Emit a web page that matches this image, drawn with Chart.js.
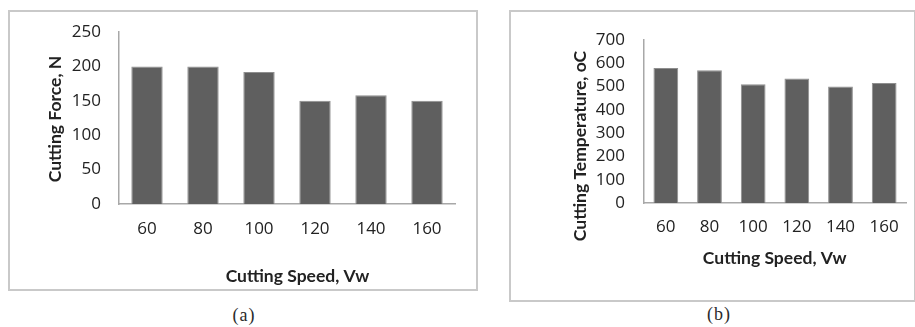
<!DOCTYPE html>
<html><head><meta charset="utf-8">
<script src="https://cdn.jsdelivr.net/npm/chart.js@4.4.1/dist/chart.umd.min.js"></script>
<style>
html,body{margin:0;padding:0;background:#fff;width:915px;height:327px;overflow:hidden;position:relative}
.box{position:absolute;box-sizing:border-box;border:2px solid #c9c9c9;}
#boxA{left:8px;top:10px;width:470px;height:281px}
#boxB{left:509px;top:10px;width:407px;height:292px}
canvas{position:absolute}
#cA{left:8px;top:10px}
#cB{left:509px;top:10px}
.cap{position:absolute;font-family:"Liberation Serif","DejaVu Serif",serif;font-size:18px;letter-spacing:1px;color:#2a2a2a;transform:translate(-50%,-50%);white-space:nowrap}
</style></head>
<body>
<div class="box" id="boxA"></div>
<div class="box" id="boxB"></div>
<canvas id="cA" width="469" height="280"></canvas>
<canvas id="cB" width="405" height="291"></canvas>
<div class="cap" style="left:244px;top:315px">(a)</div>
<div class="cap" style="left:719px;top:314px">(b)</div>
<script>
// ---- data ----
const speedLabels = ['60', '80', '100', '120', '140', '160'];
const forceValues = [200, 200, 192, 150, 158, 150];
const tempValues = [580, 570, 510, 535, 500, 515];
const forceTicks = [0, 50, 100, 150, 200, 250];
const tempTicks = [0, 100, 200, 300, 400, 500, 600, 700];
const xTitle = 'Cutting Speed, Vw';
const forceTitle = 'Cutting Force, N';
const tempTitle = 'Cutting Temperature, oC';

const TITLE_FONT = 'Lato, "Open Sans", sans-serif';
const TICK_FONT = '"Open Sans", Lato, sans-serif';
const BAR = '#5f5f5f';
const AXIS = '#a8a8a8';
const TXT = '#222222';

const axisTitlePlugin = {
  id: 'axisTitles',
  afterDraw(chart, args, o) {
    const ctx = chart.ctx;
    ctx.save();
    ctx.fillStyle = o.color;
    ctx.font = o.font;
    ctx.textAlign = 'center';
    ctx.textBaseline = 'middle';
    ctx.fillText(o.xText, o.xPos[0], o.xPos[1]);
    ctx.translate(o.yPos[0], o.yPos[1]);
    ctx.rotate(-Math.PI / 2);
    ctx.fillText(o.yText, 0, 0);
    ctx.restore();
  }
};

function makeChart(id, values, ticks, yText, g) {
  const canvas = document.getElementById(id);
  return new Chart(canvas, {
    type: 'bar',
    data: {
      labels: speedLabels,
      datasets: [{
        data: values,
        backgroundColor: BAR,
        borderColor: '#8e8e8e',
        borderWidth: 1,
        categoryPercentage: 1,
        barPercentage: g.barPct
      }]
    },
    options: {
      responsive: false,
      animation: false,
      events: [],
      layout: { autoPadding: false, padding: { left: 0, bottom: 0, top: g.top, right: canvas.width - g.right } },
      plugins: {
        legend: { display: false },
        tooltip: { enabled: false },
        axisTitles: {
          xText: xTitle, yText: yText, xPos: g.xPos, yPos: g.yPos,
          font: 'bold ' + g.titleSize + 'px ' + TITLE_FONT, color: TXT
        }
      },
      scales: {
        x: {
          grid: { display: false, drawTicks: false },
          border: { display: true, color: AXIS, width: 1.5 },
          ticks: { color: TXT, font: { family: TICK_FONT, size: g.tickSize }, padding: g.xPad, maxRotation: 0, autoSkip: false },
          afterFit(s) { s.height = canvas.height - g.bottom; s.paddingLeft = 0; s.paddingRight = 0; }
        },
        y: {
          min: ticks[0], max: ticks[ticks.length - 1],
          afterBuildTicks(s) { s.ticks = ticks.map(v => ({ value: v })); },
          grid: { display: false, drawTicks: false },
          border: { display: true, color: AXIS, width: 1.5 },
          ticks: { color: TXT, font: { family: TICK_FONT, size: g.tickSize }, padding: g.yPad, autoSkip: false },
          afterFit(s) { s.width = g.left; s.paddingTop = 0; s.paddingBottom = 0; }
        }
      }
    },
    plugins: [axisTitlePlugin]
  });
}

makeChart('cA', forceValues, forceTicks, forceTitle, {
  left: 111, right: 447, top: 22, bottom: 194, barPct: 0.56,
  tickSize: 17, titleSize: 17.5, xPad: 15, yPad: 18,
  xPos: [289.5, 266], yPos: [47, 109]
});
makeChart('cB', tempValues, tempTicks, tempTitle, {
  left: 135, right: 397, top: 30, bottom: 193, barPct: 0.567,
  tickSize: 17, titleSize: 17.5, xPad: 14, yPad: 19,
  xPos: [265.7, 248.3], yPos: [71, 136]
});
</script>
</body></html>
